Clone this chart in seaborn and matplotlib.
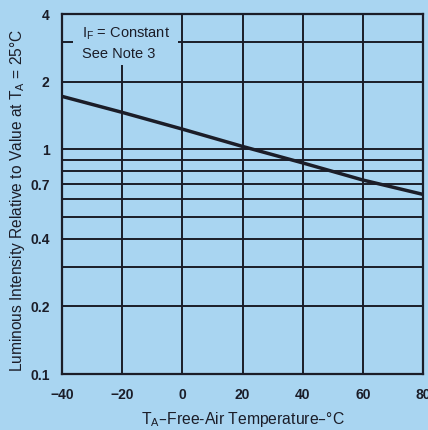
import matplotlib
matplotlib.use("Agg")
import matplotlib.pyplot as plt
import seaborn as sns
import pandas as pd
from matplotlib.patches import Rectangle
from matplotlib.ticker import FixedLocator, FixedFormatter, NullLocator

# Relative luminous intensity vs free-air temperature
temperature_c = [-40, -20, 0, 20, 40, 60, 80]
relative_intensity = [1.72, 1.46, 1.23, 1.03, 0.87, 0.73, 0.63]

x_ticks = [-40, -20, 0, 20, 40, 60, 80]
x_tick_labels = ["\u221240", "\u221220", "0", "20", "40", "60", "80"]
y_ticks = [0.1, 0.2, 0.4, 0.7, 1, 2, 4]
y_tick_labels = ["0.1", "0.2", "0.4", "0.7", "1", "2", "4"]
y_grid = [0.1, 0.2, 0.3, 0.4, 0.5, 0.6, 0.7, 0.8, 0.9, 1, 2, 3, 4]

bg = "#a9d5f1"
ink = "#1b1d28"

sns.set_theme(style="white")
plt.rcParams["font.family"] = ["Liberation Sans", "DejaVu Sans"]

fig = plt.figure(figsize=(4.28, 4.30), dpi=100, facecolor=bg)
ax = fig.add_axes([0.1449, 0.1302, 0.8434, 0.8372])
ax.set_facecolor(bg)

df = pd.DataFrame({"T": temperature_c, "I": relative_intensity})

ax.set_yscale("log")
ax.set_xlim(-40, 80)
ax.set_ylim(0.1, 4)

# grid lines
for yv in y_grid:
    ax.axhline(yv, color=ink, lw=1.4, zorder=1)
for xv in x_ticks:
    ax.axvline(xv, color=ink, lw=1.4, zorder=1)

sns.lineplot(data=df, x="T", y="I", ax=ax, color=ink, lw=2.5, zorder=4)

ax.xaxis.set_major_locator(FixedLocator(x_ticks))
ax.xaxis.set_major_formatter(FixedFormatter(x_tick_labels))
ax.yaxis.set_major_locator(FixedLocator(y_ticks))
ax.yaxis.set_major_formatter(FixedFormatter(y_tick_labels))
ax.yaxis.set_minor_locator(NullLocator())
ax.tick_params(axis="both", length=0, colors=ink, labelsize=10)
ax.tick_params(axis="y", pad=9)
ax.tick_params(axis="x", pad=10)
for lab in ax.get_xticklabels() + ax.get_yticklabels():
    lab.set_fontweight("bold")

for s in ax.spines.values():
    s.set_color(ink)
    s.set_linewidth(1.6)
    s.set_zorder(5)

ax.set_xlabel("T$_\\mathregular{A}$\u2013Free-Air Temperature\u2013\u00b0C",
              color=ink, fontsize=11.3)
ax.xaxis.set_label_coords(0.5, -0.101)
ax.set_ylabel("Luminous Intensity Relative to Value at T$_\\mathregular{A}$ = 25\u00b0C",
              color=ink, fontsize=11.2)
ax.yaxis.set_label_coords(-0.098, 0.483)

# note area: background patch hides the grid behind the text
ax.add_patch(Rectangle((-36.3, 2.37), 34.8, 1.63, facecolor=bg,
                       edgecolor="none", zorder=2))
ax.text(-33.3, 3.55, "I$_\\mathregular{F}$ = Constant\nSee Note 3",
        color=ink, fontsize=10.5, va="top", ha="left", linespacing=1.45,
        zorder=3)

fig.savefig("out.png", dpi=100, facecolor=bg)
